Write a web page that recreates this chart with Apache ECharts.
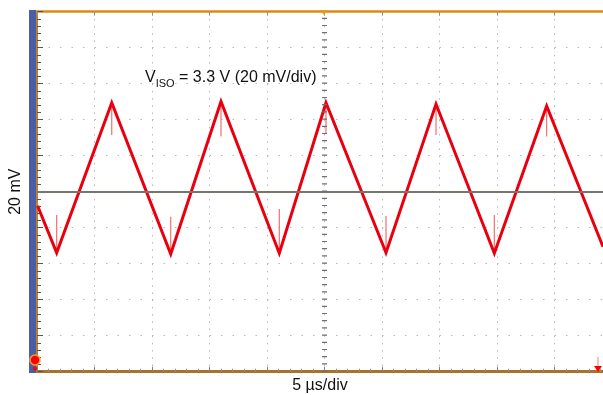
<!DOCTYPE html>
<html><head><meta charset="utf-8">
<script src="https://cdn.jsdelivr.net/npm/echarts@6/dist/echarts.min.js"></script>
<style>html,body{margin:0;padding:0;background:#fff}#c{width:603px;height:395px}</style>
</head><body><div id="c"></div>
<script>
// ---- data (time in µs, voltage in mV relative to centre line) ----
const timeUs    = [0.05, 1.71, 6.50, 11.63, 16.00, 21.07, 25.13, 30.35, 34.70, 39.77, 44.32, 49.22];
const voltageMv = [-7.8, -33.9, 49.4, -34.6, 50.1, -34.2, 49.4, -33.9, 48.7, -34.2, 47.6, -30.6];
// short switching spikes at each vertex (index into the arrays above, spike tip voltage)
const spikeIndex = [1, 2, 3, 4, 5, 6, 7, 8, 9, 10];
const spikeEndMv = [-12.9, 31.5, -13.9, 30.6, -9.6, 32.6, -13.5, 31.5, -12.9, 30.6];
const xRangeUs = [0, 49.22];   // visible part of the 10-division screen (right edge cropped)
const xCentreUs = 25;
const xStepUs = 5;
const yRangeMv = [-100, 100];
const yStepMv = 20;
const xAxisTitle = '5 µs/div';
const yAxisTitle = '20 mV';
const labelMain = 'V';
const labelSub = 'ISO';
const labelRest = ' = 3.3 V (20 mV/div)';

const FONT = '"Liberation Sans", Arial, Helvetica, sans-serif';
const chart = echarts.init(document.getElementById('c'), null, {renderer: 'canvas'});

const wave = timeUs.map((t, i) => [t, voltageMv[i]]);
const spikes = [];
spikeIndex.forEach((idx, k) => {
  spikes.push([timeUs[idx], voltageMv[idx]]);
  spikes.push([timeUs[idx], spikeEndMv[k]]);
  spikes.push([timeUs[idx], '-']);
});

const option = {
  animation: false,
  backgroundColor: '#ffffff',
  title: {
    left: 145, top: 68, padding: 0,
    text: '{v|' + labelMain + '}{s|' + labelSub + '}{t|' + labelRest + '}',
    textStyle: {
      fontWeight: 'normal',
      rich: {
        v: {fontSize: 16, fontFamily: FONT, fontWeight: 'normal', color: '#111', verticalAlign: 'bottom', lineHeight: 18},
        s: {fontSize: 11, fontFamily: FONT, fontWeight: 'normal', color: '#111', verticalAlign: 'bottom', lineHeight: 18, padding: [0, 0, -3, 0]},
        t: {fontSize: 16, fontFamily: FONT, fontWeight: 'normal', color: '#111', verticalAlign: 'bottom', lineHeight: 18}
      }
    }
  },
  grid: {left: 37, top: 11.7, right: 0, height: 360, containLabel: false, outerBoundsMode: 'none'},
  xAxis: [{
    type: 'value', min: xRangeUs[0], max: xRangeUs[1], interval: xStepUs, position: 'bottom',
    axisLine: {show: true, onZero: false, lineStyle: {color: '#a9712a', width: 3}},
    axisTick: {show: true, inside: true, length: 5, lineStyle: {color: '#808080'}},
    minorTick: {show: true, splitNumber: 5, length: 3, lineStyle: {color: '#909090'}},
    axisLabel: {show: false},
    splitLine: {show: true, lineStyle: {color: '#b8b8b8', width: 1, type: [1.5, 5.7]}},
    name: xAxisTitle, nameLocation: 'middle', nameGap: 6,
    nameTextStyle: {fontSize: 16, fontFamily: FONT, color: '#111', verticalAlign: 'top', padding: [0, 0, 0, 0]}
  }, {
    type: 'value', min: xRangeUs[0], max: xRangeUs[1], interval: xStepUs, position: 'top',
    axisLine: {show: true, onZero: false, lineStyle: {color: '#d98c12', width: 2.5}},
    axisTick: {show: true, inside: true, length: 4, lineStyle: {color: '#909090'}},
    minorTick: {show: false},
    axisLabel: {show: false},
    splitLine: {show: false}
  }],
  yAxis: {
    type: 'value', min: yRangeMv[0], max: yRangeMv[1], interval: yStepMv,
    axisLine: {show: true, onZero: false, lineStyle: {color: '#b9822c', width: 2}},
    axisTick: {show: true, inside: true, length: 6, lineStyle: {color: '#555'}},
    minorTick: {show: true, splitNumber: 5, length: 4, lineStyle: {color: '#555'}},
    axisLabel: {show: false},
    splitLine: {show: true, lineStyle: {color: '#b8b8b8', width: 1, type: [1.5, 10]}},
    name: yAxisTitle, nameLocation: 'middle', nameGap: 13,
    nameTextStyle: {fontSize: 16, fontFamily: FONT, color: '#111'}
  },
  series: [{
    type: 'line', data: [[xRangeUs[0], 0]], symbol: 'none', silent: true, z: 1,
    lineStyle: {opacity: 0},
    markLine: {
      silent: true, symbol: ['none', 'none'], label: {show: false}, animation: false,
      data: [
        {yAxis: 0, lineStyle: {color: '#76766c', width: 2, type: 'solid'}},
        {xAxis: xCentreUs, lineStyle: {color: '#6f6f6f', width: 5, type: [1.2, 6]}}
      ]
    }
  }, {
    type: 'line', data: spikes, symbol: 'none', silent: true, z: 2, connectNulls: false,
    lineStyle: {color: '#f07070', width: 1.2}
  }, {
    type: 'line', data: wave, symbol: 'none', silent: true, z: 3,
    lineStyle: {color: '#e8000e', width: 3, join: 'miter'}
  }],
  graphic: [
    {type: 'rect', shape: {x: 29, y: 10, width: 7, height: 363}, style: {fill: '#4b5ea5'}, z: 10},
    {type: 'polygon', shape: {points: [[320.5, 10], [327.5, 10], [324, 15]]}, style: {fill: '#e89a10'}, z: 10},
    {type: 'circle', shape: {cx: 35, cy: 360, r: 5}, style: {fill: '#f00', stroke: '#f0a030', lineWidth: 1.5}, z: 10},
    {type: 'circle', shape: {cx: 35, cy: 368.5, r: 2}, style: {fill: '#f00'}, z: 10},
    {type: 'line', shape: {x1: 598, y1: 357, x2: 598, y2: 367}, style: {stroke: '#f08080', lineWidth: 1}, z: 10},
    {type: 'polygon', shape: {points: [[594, 366], [602, 366], [598, 372]]}, style: {fill: '#f00'}, z: 10}
  ]
};
chart.setOption(option);
</script>
</body></html>
